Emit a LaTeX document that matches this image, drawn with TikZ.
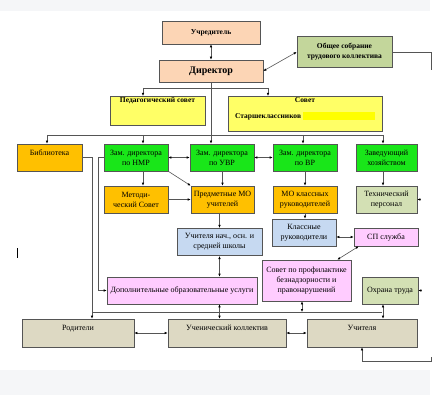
\documentclass[tikz,border=0pt]{standalone}
\usepackage{fontspec}
\setmainfont{Liberation Serif}
\usetikzlibrary{arrows.meta}
\definecolor{peach}{HTML}{FCD5B5}
\definecolor{olive}{HTML}{C3D69B}
\definecolor{olivelt}{HTML}{D3E0B4}
\definecolor{pale}{HTML}{FFFF66}
\definecolor{hilite}{HTML}{FFFF00}
\definecolor{amber}{HTML}{FFC000}
\definecolor{zamgreen}{HTML}{19E619}
\definecolor{skyblue}{HTML}{C6D9F1}
\definecolor{lilac}{HTML}{FFCCFF}
\definecolor{sand}{HTML}{DDD9C3}
\definecolor{frame}{HTML}{555555}
\definecolor{strip}{HTML}{F5F6F8}
\begin{document}
\begin{tikzpicture}[x=1pt, y=-1pt,
    box/.style={draw=frame, line width=0.6pt, align=center, inner sep=1pt,
      font=\fontsize{8}{10}\selectfont, minimum height=27pt},
    bbox/.style={box, font=\bfseries\fontsize{7.5}{10}\selectfont},
    link/.style={draw=frame, line width=0.6pt},
    >={Latex[length=3pt,width=2.6pt,black]}]
      \useasboundingbox (0,0) rectangle (437,404);
      \fill[white] (0,0) rectangle (437,404);
      \fill[strip] (0,0) rectangle (430,11);
      \fill[strip] (0,370) rectangle (430,395);
      % top
      \node[bbox, fill=peach, minimum width=98pt, minimum height=23pt] (uchr) at (211,32.5) {Учредитель};
      \node[bbox, fill=peach, minimum width=104pt, minimum height=22pt,
        font=\bfseries\fontsize{10}{12}\selectfont] (dir) at (211,71) {Директор};
      \node[bbox, fill=olive, minimum width=95pt, minimum height=31pt] (obsh) at (344.5,52) {Общее собрание\\трудового коллектива};
      \node[bbox, fill=pale, minimum width=95pt, anchor=north, text depth=22pt] (ped) at (157.5,96) {Педагогический совет};
      \node[bbox, fill=pale, minimum width=154pt, anchor=north, text depth=12pt] (sov) at (305,96)
        {Совет\\[6pt]Старшеклассников {\color{hilite}\rule[-1.5pt]{72pt}{8pt}}};
      % deputies
      \node[box, fill=amber, minimum width=65pt] (bib) at (49.5,157.5) {Библиотека\\~};
      \node[box, fill=zamgreen, minimum width=64pt] (nmr) at (136,157.5) {Зам. директора\\по НМР};
      \node[box, fill=zamgreen, minimum width=64pt] (uvr) at (222,157.5) {Зам. директора\\по УВР};
      \node[box, fill=zamgreen, minimum width=64pt] (vr) at (305,157.5) {Зам. директора\\по ВР};
      \node[box, fill=zamgreen, minimum width=61pt] (zav) at (386.5,157.5) {Заведующий\\хозяйством};
      % second level
      \node[box, fill=amber, minimum width=64pt] (met) at (136,199.5) {Методи-\\ческий Совет};
      \node[box, fill=amber, minimum width=63pt] (pred) at (222.5,199.5) {Предметные МО\\учителей};
      \node[box, fill=amber, minimum width=64pt] (mok) at (305,199.5) {МО классных\\руководителей};
      \node[box, fill=olivelt, minimum width=61pt] (tech) at (386.5,199.5) {Технический\\персонал};
      \node[box, fill=skyblue, minimum width=85pt, minimum height=27.5pt] (uchn) at (219.5,242) {Учителя нач., осн. и\\средней школы};
      \node[box, fill=skyblue, minimum width=64pt] (klr) at (304,232.5) {Классные\\руководители};
      \node[box, fill=lilac, minimum width=64pt, minimum height=18pt] (sp) at (386,237) {СП служба};
      \node[box, fill=lilac, minimum width=150pt] (dop) at (182,290.5) {Дополнительные образовательные услуги};
      \node[box, fill=lilac, minimum width=89pt, minimum height=41pt] (prof) at (306.5,280.5) {Совет по профилактике\\безнадзорности и\\правонарушений};
      \node[box, fill=olivelt, minimum width=56pt] (ohr) at (390,290.5) {Охрана труда};
      % bottom row
      \node[box, fill=sand, minimum width=112pt, minimum height=28pt] (rod) at (78,333) {Родители\\~};
      \node[box, fill=sand, minimum width=118pt, minimum height=28pt] (uchk) at (227,333) {Ученический коллектив\\~};
      \node[box, fill=sand, minimum width=110pt, minimum height=28pt] (uchit) at (362,333) {Учителя\\~};
      % junctions
      \coordinate (p1) at (143,88);
      \coordinate (p2) at (268,88);
      \coordinate (b1) at (47,135);
      \coordinate (b2) at (143,135);
      \coordinate (b3) at (211,135);
      \coordinate (b4) at (303,135);
      \coordinate (b5) at (383,135);
      \coordinate (r1) at (92,312);
      \coordinate (r2) at (382,312);
      \coordinate (q) at (302,312);
      \coordinate (ot) at (431,70);
      \coordinate (ur) at (431,357);
      \coordinate (ub) at (362,361);
      \begin{scope}[link]
        \draw[<->] (uchr.south) -- (dir.north);
        \draw[<->] (dir.east) -- (obsh.west);
        \draw (obsh.east) -| (ot);
        \draw (p1) -- (p2);
        \draw[->] (p1) -- (p1 |- ped.north);
        \draw[->] (p2) -- (p2 |- sov.north);
        \draw (dir.south) -- (b3);
        \draw (b1) -- (b5);
        \foreach \c/\n in {b1/bib, b2/nmr, b3/uvr, b4/vr, b5/zav}
          \draw[->] (\c) -- (\c |- \n.north);
        \draw[<->] (nmr.east) -- (uvr.west);
        \draw[<->] (uvr.east) -- (vr.west);
        \draw[->] (b2 |- nmr.south) -- (b2 |- met.north);
        \draw[->] (nmr.south east) -- (pred.north west);
        \draw[->] (met.east) -- (pred.west);
        \draw[->] (pred.north |- uvr.south) -- (pred.north);
        \draw[->] (vr.south) -- (mok.north);
        \draw[->] (b5 |- zav.south) -- (b5 |- tech.north);
        \draw[->] (uchn.north |- pred.south) -- (uchn.north);
        \draw[->] (mok.south) -- (mok.south |- klr.north);
        \draw[<->] (klr.east |- sp.west) -- (sp.west);
        \draw[<->] ([xshift=5pt]sp.south west) -- ([xshift=-14pt]prof.north east);
        \draw[<->] (uchn.south) -- (uchn.south |- dop.north);
        \draw[<->] (uchn.south |- dop.south) -- (uchn.south |- uchk.north);
        \draw[->] (bib.east) -| (r1 |- rod.north);
        \draw (r1) -- (r2);
        \draw[<->] (q |- prof.south) -- (q);
        \draw[<->] (b5 |- ohr.south) -- (b5 |- uchit.north);
        \draw[->] (nmr.west) -- ++(-5,0) |- (dop.west);
        \draw[<->] (rod.east) -- (uchk.west);
        \draw[<->] (uchk.east) -- (uchit.west);
        \draw[<-] (tech.east) -- ++(4,0);
        \draw[<-] (ohr.east) -- ++(4,0);
        \draw[->] (ur) |- (ub) -- (uchit.south);
      \end{scope}
      \draw[line width=1pt] (17,248) -- (17,258);
    \end{tikzpicture}
\end{document}
